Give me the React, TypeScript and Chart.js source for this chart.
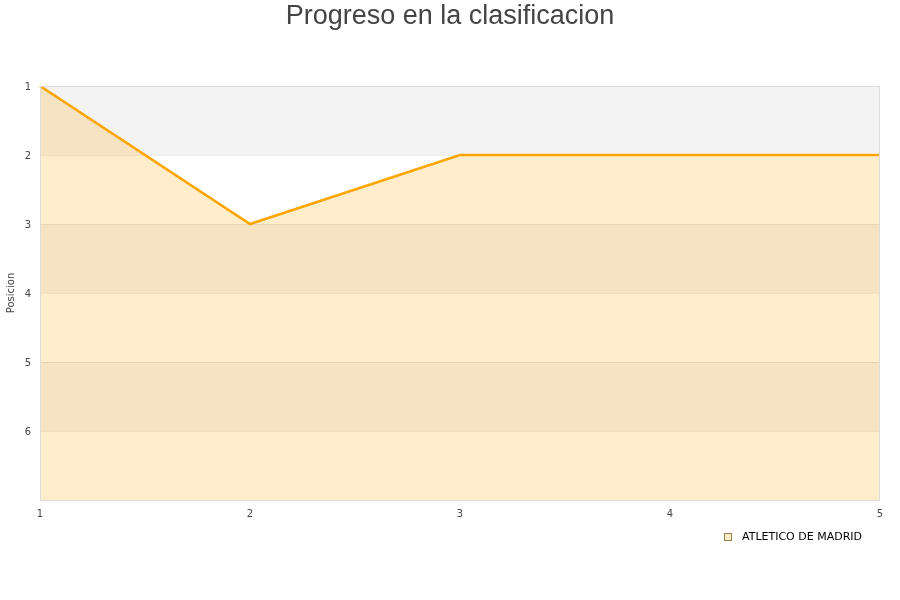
import React, { useEffect, useRef } from "react";
import { Chart, registerables } from "chart.js";

Chart.register(...registerables);

const jornadas = ["1", "2", "3", "4", "5"];
const posiciones = [1, 3, 2, 2, 2];
const equipo = "ATLETICO DE MADRID";
const titulo = "Progreso en la clasificacion";
const ejeY = "Posicion";
const posMin = 1;
const posMax = 7;

// Alternating grey/white bands behind the plot, plus the outer frame
const bandsPlugin = {
  id: "bands",
  beforeDatasetsDraw(chart: any) {
    const { ctx, chartArea, scales } = chart;
    const y = scales.y;
    ctx.save();
    for (let v = posMin; v < posMax; v++) {
      const y0 = y.getPixelForValue(v);
      const y1 = y.getPixelForValue(v + 1);
      ctx.fillStyle = (v - posMin) % 2 === 0 ? "#f3f3f3" : "#ffffff";
      ctx.fillRect(chartArea.left, Math.min(y0, y1), chartArea.right - chartArea.left, Math.abs(y1 - y0));
    }
    // grid lines
    for (let v = posMin + 1; v < posMax; v++) {
      const py = Math.round(y.getPixelForValue(v)) + 0.5;
      ctx.strokeStyle = "rgba(0,0,0,0.07)";
      ctx.lineWidth = 1;
      ctx.beginPath();
      ctx.moveTo(chartArea.left, py);
      ctx.lineTo(chartArea.right, py);
      ctx.stroke();
    }
    ctx.restore();
  },
  afterDatasetsDraw(chart: any) {
    const { ctx, chartArea } = chart;
    ctx.save();
    ctx.strokeStyle = "#dcdcdc";
    ctx.lineWidth = 1;
    ctx.strokeRect(
      Math.round(chartArea.left) + 0.5,
      Math.round(chartArea.top) + 0.5,
      Math.round(chartArea.right - chartArea.left) - 1,
      Math.round(chartArea.bottom - chartArea.top)
    );
    ctx.restore();
  },
  afterDraw(chart: any) {
    const { ctx } = chart;
    ctx.save();
    // title
    ctx.fillStyle = "#444444";
    ctx.font = "27px 'Liberation Sans', Arial, sans-serif";
    ctx.textAlign = "center";
    ctx.textBaseline = "middle";
    ctx.fillText(titulo, 450, 16.5);
    // legend
    ctx.fillStyle = "rgba(255,165,0,0.2)";
    ctx.fillRect(724.5, 533.5, 7, 7);
    ctx.strokeStyle = "#a07a40";
    ctx.lineWidth = 1;
    ctx.strokeRect(724.5, 533.5, 7, 7);
    ctx.fillStyle = "#000000";
    ctx.font = "11px 'DejaVu Sans', sans-serif";
    ctx.textAlign = "left";
    ctx.fillText(equipo, 742, 537);
    ctx.restore();
  },
};

export default function App() {
  const ref = useRef<HTMLCanvasElement | null>(null);

  useEffect(() => {
    if (!ref.current) return;
    const chart = new Chart(ref.current, {
      type: "line",
      data: {
        labels: jornadas,
        datasets: [
          {
            label: equipo,
            data: posiciones,
            borderColor: "#ffa500",
            backgroundColor: "rgba(255,165,0,0.2)",
            borderWidth: 2.6,
            pointRadius: 0,
            tension: 0,
            fill: { value: posMax },
          },
        ],
      },
      options: {
        responsive: false,
        animation: false,
        layout: { padding: { top: 86, left: 0, right: 20, bottom: 80 } },
        plugins: {
          legend: { display: false },
          title: { display: false },
          tooltip: { enabled: false },
        },
        scales: {
          x: {
            offset: false,
            grid: { display: false, drawTicks: false },
            border: { display: false },
            ticks: {
              padding: 8,
              color: "#444",
              font: { family: "'DejaVu Sans', sans-serif", size: 10 },
              maxRotation: 0,
            },
            afterFit(scale: any) {
              scale.height = 20;
            },
          },
          y: {
            reverse: true,
            min: posMin,
            max: posMax,
            grid: { display: false, drawTicks: false },
            border: { display: false },
            ticks: {
              stepSize: 1,
              padding: 9,
              labelOffset: 1.5,
              color: "#444",
              font: { family: "'DejaVu Sans', sans-serif", size: 10 },
              callback: (v: any) => (v >= posMax ? "" : String(v)),
            },
            title: {
              display: true,
              text: ejeY,
              color: "#444",
              font: { family: "'DejaVu Sans', sans-serif", size: 10 },
              padding: { top: 5, bottom: 0 },
            },
            afterFit(scale: any) {
              scale.width = 40;
            },
          },
        },
      },
      plugins: [bandsPlugin],
    });
    return () => chart.destroy();
  }, []);

  return (
    <div style={{ position: "fixed", left: 0, top: 0, width: 900, height: 600, background: "#fff" }}>
      <canvas ref={ref} width={900} height={600} />
    </div>
  );
}
